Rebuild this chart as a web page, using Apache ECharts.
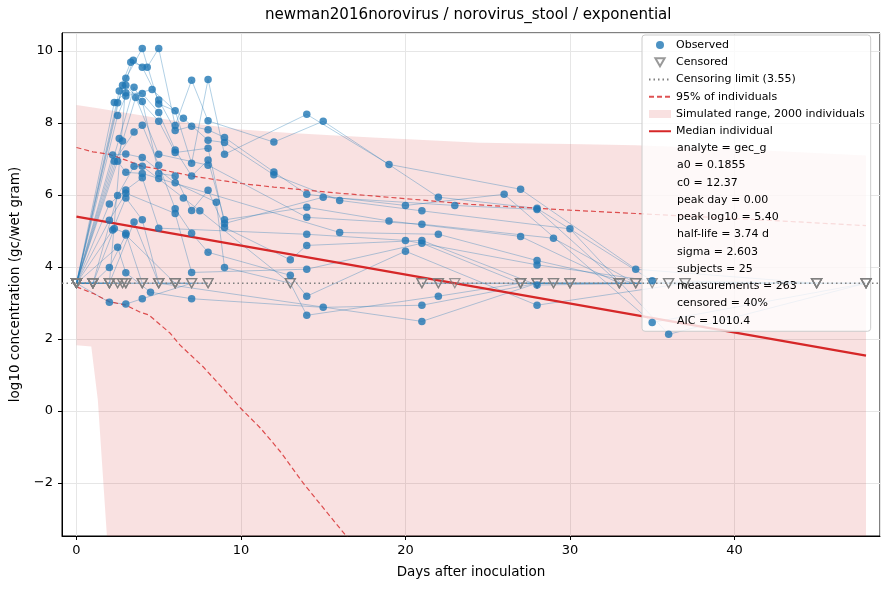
<!DOCTYPE html>
<html>
<head>
<meta charset="utf-8">
<title>newman2016norovirus / norovirus_stool / exponential</title>
<script src="https://cdn.jsdelivr.net/npm/echarts@6/dist/echarts.min.js"></script>
<style>
  html, body { margin: 0; padding: 0; background: #fff; }
  #chart { width: 890px; height: 590px; }
</style>
</head>
<body>
<div id="chart"></div>
<script>
// censoring limit (log10 gc/wet gram)
var censorLimit = 3.55;
var xRange = [-0.88, 48.85];
var yRange = [-3.47, 10.5];

// one list per subject: [day, log10 value], null = censored (below limit)
var subjects = [
  [[0,null],[2.8,9.05],[3,9.24],[4,10.07],[5,8.53],[6,8.34],[7,6.88],[8,9.21],[9,7.13],[14,8.24],[19,6.85],[27,6.16],[34,3.94],[45,null]],
  [[0,null],[2.6,8.89],[3.3,9.69],[4.3,9.55],[5,10.07],[6,7.93],[7,9.19],[8,8.06],[12,7.47],[15,8.05],[22,5.94],[28,5.63],[35,3.62],[45,null]],
  [[0,null],[2.3,8.57],[3,8.84],[4,8.82],[5,8.29],[6,7.25],[7,6.53],[8,6.97],[9,5.31],[14,5.66],[19,5.28],[27,4.85],[33,null],[45,null],[48,null]],
  [[0,null],[2.5,8.56],[3.45,9.74],[4,9.55],[5,8.64],[6,7.79],[7,7.91],[8,7.81],[9,7.6],[12,6.64],[14,6.02],[20,5.71],[26,6.02],[35,2.46],[48,null]],
  [[0,null],[2.5,8.21],[3,8.75],[4.6,8.93],[6.5,8.13],[8,7.52],[9,7.46],[12,6.56],[16,5.85],[21,5.56],[30,5.06],[36,2.13],[48,null]],
  [[0,null],[2.6,7.57],[3.5,8.99],[4,8.6],[5,6.6],[6,6.53],[7,5.57],[8,6.13],[9,5.1],[13,4.2],[14,4.6],[21,4.74],[28,3.5],[35,null],[37,null]],
  [[0,null],[2.8,7.5],[3.6,8.71],[5,7.13],[8,6.83],[14,5.38],[21,5.19],[29,4.8],[34,null],[36,null]],
  [[0,null],[2.2,7.11],[3,7.14],[4,7.04],[6,6.34],[8.5,5.8],[9,3.99],[13,null],[14,2.66],[22,3.19],[27,null],[33,null]],
  [[0,null],[2.3,6.94],[3.5,7.75],[4,7.94],[5,6.83],[6,5.62],[7,4.94],[8,4.41],[13,3.77],[14,3.19],[20,4.44],[28,2.94],[37,null]],
  [[0,null],[2.5,6.94],[3,6.63],[4,6.6],[5,6.46],[16,4.96],[22,4.91],[28,4.18],[34,null],[45,null]],
  [[0,null],[1,null],[2.5,5.99],[3.5,6.8],[4,6.8],[6.5,5.92],[7.5,5.56],[13,null]],
  [[0,null],[2,5.75],[3,6.14],[4,6.48],[5,5.08],[14,4.91],[20,4.74],[28,4.06],[36,null],[48,null]],
  [[0,null],[2,5.3],[3,6.05],[6,5.49],[7,3.85],[14,3.94],[21,4.66],[27,null],[33,null]],
  [[0,null],[1,null],[2.3,5.07],[3,4.94],[4,null],[5,null],[21,2.49],[28,null],[29,null]],
  [[0,null],[2.2,5.03],[3,5.92],[4,5.31],[5,null],[6,null],[7,null]],
  [[0,null],[2.5,4.55],[3,3.84],[4.5,3.3],[7,3.12],[15,2.88],[21,2.94],[28,null],[30,null],[45,null]],
  [[0,null],[1,null],[2,3.99],[3,4.89],[6,null],[8,null]],
  [[0,null],[2,3.02],[3,2.97],[4,3.12],[7,null]],
  [[0,null],[1,null],[2,null],[3,9.05],[5,8.05],[6,7.18],[8,7.3],[9,5.21],[15,5.94],[23,5.71],[28,5.6],[33,null],[48,null]],
  [[0,null],[1,null],[2,null],[3.5,5.25],[5,null],[6,null],[8,null]],
  [[0,null],[1,null],[2,null],[2.5,null],[3,null],[4,null],[5,null],[6,null]],
  [[0,null],[1,null],[2,null],[2.5,null],[2.8,null],[3,null]],
  [[21,null],[22,null],[23,null],[27,null],[28,null],[29,null],[30,null]],
  [[0,null],[1,null],[2,null],[2.8,null],[3,null],[4,null]],
  [[21,null],[22,null],[27,null],[28,null],[30,null],[33,null],[34,null]]
];

// simulated range of 2000 individuals
var bandDays = [0, 0.9, 1.3, 1.85, 2.5, 4, 5, 7, 10, 13, 18, 24.5, 30, 34, 40, 48];
var bandLow  = [1.83, 1.79, 0.3, -3.47, -6, -8, -9, -10, -11, -12, -13, -14, -15, -16, -17, -18];
var bandHigh = [8.5, 8.44, 8.41, 8.37, 8.32, 8.21, 8.13, 7.99, 7.82, 7.72, 7.6, 7.45, 7.42, 7.38, 7.28, 7.1];

// 95% of individuals
var upperDays = [0, 1, 2, 3, 4, 5, 7, 10, 12, 16, 20, 24, 30, 36, 42, 48];
var upperLog10 = [7.32, 7.2, 7.13, 6.97, 6.8, 6.72, 6.53, 6.32, 6.22, 6.05, 5.9, 5.74, 5.58, 5.44, 5.3, 5.15];
var lowerDays = [0, 1, 2, 3, 3.9, 4.4, 5.7, 6.3, 7.7, 8.9, 10, 11.2, 12.4, 13.8, 15.2, 16.4, 17.5];
var lowerLog10 = [3.45, 3.27, 3.04, 2.94, 2.74, 2.67, 2.16, 1.83, 1.23, 0.63, 0.07, -0.48, -1.13, -2.01, -2.8, -3.47, -4.1];

// median individual
var medianDays = [0, 48];
var medianLog10 = [5.40, 1.54];

var fitParams = [
  'analyte = gec_g', 'a0 = 0.1855', 'c0 = 12.37', 'peak day = 0.00', 'peak log10 = 5.40',
  'half-life = 3.74 d', 'sigma = 2.603', 'subjects = 25', 'measurements = 263',
  'censored = 40%', 'AIC = 1010.4'
];

var FONT = 'DejaVu Sans';
var myChart = echarts.init(document.getElementById('chart'));

function pairs(xs, ys) {
  return xs.map(function (x, i) { return [x, ys[i]]; });
}

var observed = [], censored = [];
subjects.forEach(function (s) {
  s.forEach(function (p) {
    if (p[1] == null) censored.push([p[0], censorLimit]);
    else observed.push([p[0], p[1]]);
  });
});

var subjectSeries = subjects.map(function (s, i) {
  return {
    name: 'subject ' + (i + 1),
    type: 'line',
    silent: true,
    symbol: 'none',
    z: 2,
    lineStyle: { color: '#1f77b4', width: 1, opacity: 0.35 },
    data: s.map(function (p) { return [p[0], p[1] == null ? censorLimit : p[1]]; })
  };
});

// band polygon: upper edge forward, lower edge back
function renderBand(params, api) {
  if (params.dataIndex !== 0) return;
  var pts = [];
  for (var i = 0; i < bandDays.length; i++) pts.push(api.coord([bandDays[i], bandHigh[i]]));
  for (var j = bandDays.length - 1; j >= 0; j--) pts.push(api.coord([bandDays[j], bandLow[j]]));
  var cs = params.coordSys;
  return {
    type: 'polygon',
    shape: { points: pts },
    style: { fill: 'rgba(214,39,40,0.14)' },
    clipPath: { type: 'rect', shape: { x: cs.x, y: cs.y, width: cs.width, height: cs.height } }
  };
}

function fmtMinus(v) {
  return v < 0 ? '\u2212' + Math.abs(v) : String(v);
}

var hideSymbol = { opacity: 0 };

var option = {
  animation: false,
  title: {
    text: 'newman2016norovirus / norovirus_stool / exponential',
    left: 265,
    top: 8,
    padding: 0,
    textStyle: { fontSize: 15.1, fontWeight: 'normal', color: '#000', fontFamily: FONT }
  },
  grid: {
    left: 62, right: 10, top: 33, bottom: 54,
    show: true, borderColor: '#000', borderWidth: 1
  },
  legend: {
    orient: 'vertical',
    left: 642,
    top: 35,
    padding: [4, 6, 194, 6],
    itemWidth: 22,
    itemHeight: 8,
    itemGap: 5.25,
    selectedMode: false,
    backgroundColor: 'rgba(255,255,255,0.8)',
    borderColor: '#cccccc',
    borderWidth: 1,
    borderRadius: 3,
    textStyle: { fontSize: 11, fontFamily: FONT, color: '#000', lineHeight: 12 },
    data: [
      { name: 'Observed', icon: 'circle' },
      { name: 'Censored' },
      { name: 'Censoring limit (3.55)', itemStyle: hideSymbol },
      { name: '95% of individuals', itemStyle: hideSymbol },
      { name: 'Simulated range, 2000 individuals', icon: 'rect',
        itemStyle: { color: 'rgba(214,39,40,0.14)', borderWidth: 0 } },
      { name: 'Median individual', itemStyle: hideSymbol }
    ]
  },
  xAxis: {
    type: 'value',
    min: xRange[0],
    max: xRange[1],
    splitNumber: 5,
    name: 'Days after inoculation',
    nameLocation: 'middle',
    nameGap: 29,
    nameTextStyle: { fontSize: 13.5, color: '#000', fontFamily: FONT },
    axisLine: { onZero: false, lineStyle: { color: '#000', width: 1 } },
    axisTick: { show: true, length: 4, lineStyle: { color: '#000' } },
    axisLabel: {
      color: '#000', fontSize: 13, fontFamily: FONT, margin: 8,
      showMinLabel: false, showMaxLabel: false,
      formatter: function (v) { return v % 10 === 0 ? fmtMinus(v) : ''; }
    },
    splitLine: { show: true, lineStyle: { color: '#e6e6e6', width: 1 } }
  },
  yAxis: {
    type: 'value',
    min: yRange[0],
    max: yRange[1],
    splitNumber: 7,
    name: 'log10 concentration (gc/wet gram)',
    nameLocation: 'middle',
    nameGap: 37,
    nameTextStyle: { fontSize: 13.5, color: '#000', fontFamily: FONT },
    axisLine: { show: true, onZero: false, lineStyle: { color: '#000', width: 1 } },
    axisTick: { show: true, length: 4, lineStyle: { color: '#000' } },
    axisLabel: {
      color: '#000', fontSize: 13, fontFamily: FONT, margin: 9,
      showMinLabel: false, showMaxLabel: false,
      formatter: function (v) { return v % 2 === 0 ? fmtMinus(v) : ''; }
    },
    splitLine: { show: true, lineStyle: { color: '#e6e6e6', width: 1 } }
  },
  graphic: fitParams.map(function (t, i) {
    return {
      type: 'text',
      x: 677,
      y: 148.3 + i * 17.25,
      z: 100,
      silent: true,
      style: { text: t, fill: '#000', font: '11px "' + FONT + '"', verticalAlign: 'middle' }
    };
  }),
  series: [
    {
      name: 'Simulated range, 2000 individuals',
      type: 'custom',
      silent: true,
      z: 1,
      itemStyle: { color: 'rgba(214,39,40,0.14)' },
      renderItem: renderBand,
      encode: { x: 0, y: [1, 2] },
      data: bandDays.map(function (d, i) { return [d, bandLow[i], bandHigh[i]]; })
    }
  ].concat(subjectSeries).concat([
    {
      name: '95% of individuals',
      type: 'line',
      symbol: 'none',
      silent: true,
      z: 3,
      lineStyle: { color: 'rgba(214,39,40,0.8)', width: 1.2, type: [5, 3] },
      data: pairs(upperDays, upperLog10)
    },
    {
      name: '95% of individuals',
      type: 'line',
      symbol: 'none',
      silent: true,
      z: 3,
      lineStyle: { color: 'rgba(214,39,40,0.8)', width: 1.2, type: [5, 3] },
      data: pairs(lowerDays, lowerLog10)
    },
    {
      name: 'Median individual',
      type: 'line',
      symbol: 'none',
      silent: true,
      z: 3,
      lineStyle: { color: '#d62728', width: 2.3 },
      data: pairs(medianDays, medianLog10)
    },
    {
      name: 'Censoring limit (3.55)',
      type: 'line',
      symbol: 'none',
      silent: true,
      z: 4,
      lineStyle: { color: '#7f7f7f', width: 1.5, type: [1.5, 3] },
      data: [[xRange[0], censorLimit], [xRange[1], censorLimit]]
    },
    {
      name: 'Censored',
      type: 'scatter',
      symbol: 'path://M0,0L10,0L5,8.66Z',
      symbolSize: [10, 9],
      z: 5,
      itemStyle: { color: 'rgba(255,255,255,0)', borderColor: '#7f7f7f', borderWidth: 1.3 },
      data: censored
    },
    {
      name: 'Observed',
      type: 'scatter',
      symbol: 'circle',
      symbolSize: 7.5,
      z: 6,
      itemStyle: { color: '#1f77b4', opacity: 0.8 },
      data: observed
    }
  ])
};

myChart.setOption(option);
</script>
</body>
</html>
